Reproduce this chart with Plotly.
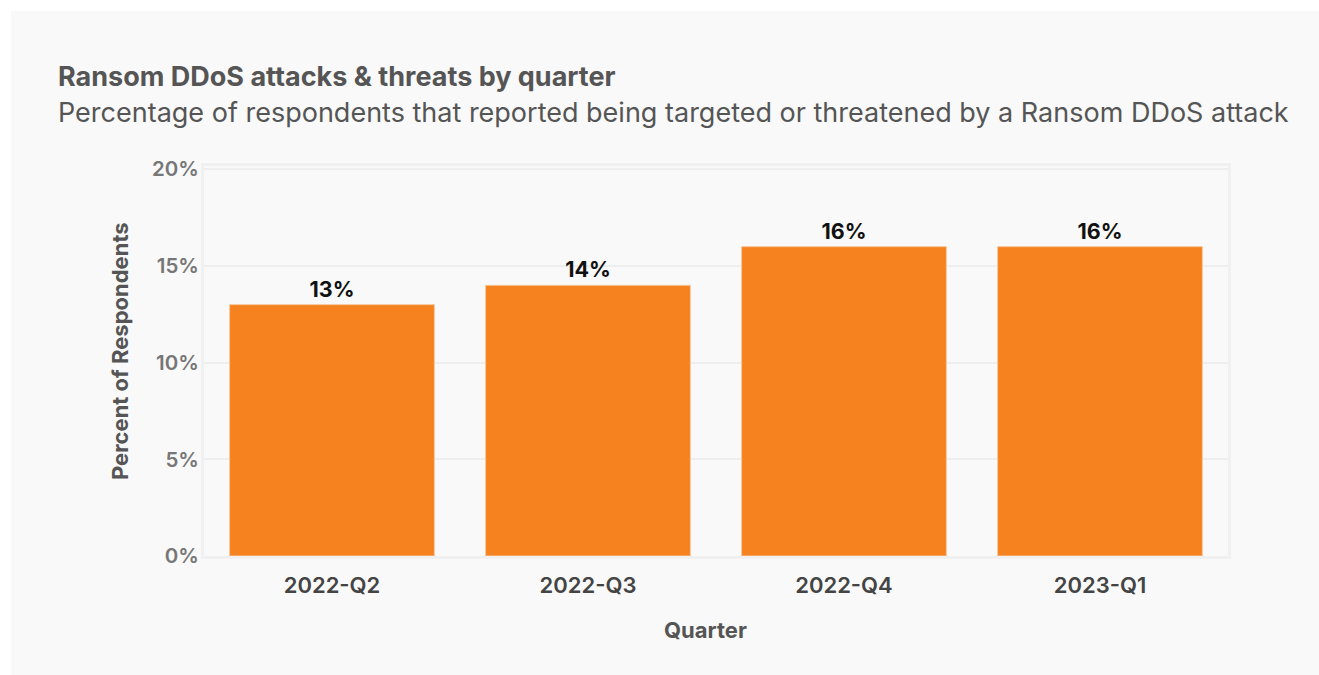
import plotly.graph_objects as go

quarters = ["2022-Q2", "2022-Q3", "2022-Q4", "2023-Q1"]
percent = [13, 14, 16, 16]
labels = ["13%", "14%", "16%", "16%"]
y_ticks = [0, 5, 10, 15, 20]
y_tick_text = ["0%", "5%", "10%", "15%", "20%"]

W, H = 1319, 675
L, R, T, B = 204, 1228, 166, 556
pw, ph = R - L, B - T

fig = go.Figure()
fig.add_trace(go.Bar(
    x=quarters, y=percent, text=labels, textposition="outside",
    textfont=dict(family="Inter", size=21.5, color="#111111", weight=700),
    marker=dict(color="#F6821F", line=dict(color="#f7c89e", width=1)),
    cliponaxis=False, hoverinfo="skip",
))

fig.update_layout(
    width=W, height=H,
    margin=dict(l=L, r=W - R, t=T, b=H - B, pad=0),
    paper_bgcolor="#ffffff", plot_bgcolor="#f9f9f9",
    bargap=0.2, showlegend=False,
    font=dict(family="Inter", color="#555555"),
    shapes=[dict(type="rect", xref="paper", yref="paper", layer="below",
                 x0=(11 - L) / pw, x1=(W - L) / pw,
                 y0=(B - H) / ph, y1=(B - 11) / ph,
                 fillcolor="#f9f9f9", line=dict(width=0))],
    annotations=[
        dict(text="<b>Ransom DDoS attacks &amp; threats by quarter</b>", xref="paper", yref="paper",
             x=(56 - L) / pw, y=(B - 77) / ph, xanchor="left", yanchor="middle", showarrow=False,
             font=dict(family="Inter", size=27, color="#555555")),
        dict(text="Percentage of respondents that reported being targeted or threatened by a Ransom DDoS attack",
             xref="paper", yref="paper",
             x=(56 - L) / pw, y=(B - 112) / ph, xanchor="left", yanchor="middle", showarrow=False,
             font=dict(family="Inter", size=27, color="#555555")),
        dict(text="<b>Percent of Respondents</b>", xref="paper", yref="paper", textangle=-90,
             x=(120 - L) / pw, y=(B - 351) / ph, xanchor="center", yanchor="middle", showarrow=False,
             font=dict(family="Inter", size=22, color="#555555")),
        dict(text="<b>Quarter</b>", xref="paper", yref="paper",
             x=(705 - L) / pw, y=(B - 630) / ph, xanchor="center", yanchor="middle", showarrow=False,
             font=dict(family="Inter", size=22, color="#555555")),
    ],
)
fig.update_xaxes(
    tickfont=dict(family="Inter", size=22, color="#444444", weight=600),
    showline=True, mirror=True, linecolor="#f0f0f0", linewidth=3,
    ticks="outside", ticklen=8, tickcolor="rgba(0,0,0,0)", showgrid=False, fixedrange=True,
)
fig.update_yaxes(
    range=[0, 20.17], tickvals=y_ticks, ticktext=y_tick_text,
    tickfont=dict(family="Inter", size=20.5, color="#777777", weight=600),
    showline=True, mirror=True, linecolor="#f0f0f0", linewidth=3,
    gridcolor="#eeeeee", gridwidth=2, zeroline=False, ticks="", ticklabelstandoff=-2,
    fixedrange=True,
)

fig.write_html("out.html", config={"displayModeBar": False})
